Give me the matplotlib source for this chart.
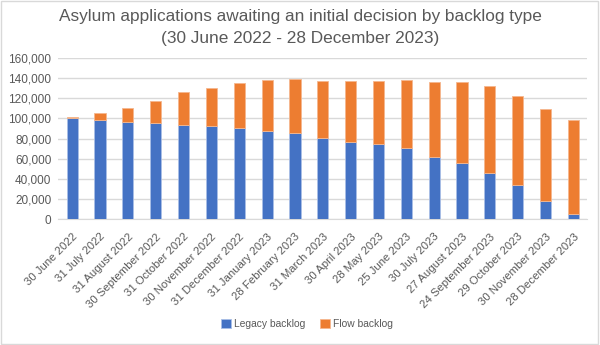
import matplotlib.pyplot as plt
import matplotlib.patches as mpatches
import numpy as np

# Snapshot dates and backlog sizes
dates = [
    '30 June 2022', '31 July 2022', '31 August 2022', '30 September 2022',
    '31 October 2022', '30 November 2022', '31 December 2022',
    '31 January 2023', '28 February 2023', '31 March 2023', '30 April 2023',
    '28 May 2023', '25 June 2023', '30 July 2023', '27 August 2023',
    '24 September 2023', '29 October 2023', '30 November 2023',
    '28 December 2023',
]
legacy = [100000, 98400, 96400, 95700, 93700, 92100, 90400, 87800, 85100,
          80800, 76500, 74200, 70200, 61900, 55300, 45400, 33500, 18200, 4600]
total = [101700, 105300, 110600, 117600, 125900, 130500, 135500, 137800,
         139100, 137500, 136800, 137100, 138100, 136100, 136100, 132200,
         122200, 109000, 98000]
flow = [t - l for t, l in zip(total, legacy)]

BLUE = '#4472C4'
ORANGE = '#ED7D31'
TEXT = '#595959'
GRID = '#D9D9D9'

plt.rcParams['font.family'] = ['Liberation Sans', 'DejaVu Sans']

fig = plt.figure(figsize=(6, 3.45), dpi=100)
ax = fig.add_axes([0.097, 0.365, 0.882, 0.467])

x = np.arange(len(dates))
ax.bar(x, legacy, width=0.4, color=BLUE, edgecolor='#A9BEE6',
       linewidth=0.6, label='Legacy backlog', zorder=3)
ax.bar(x, flow, bottom=legacy, width=0.4, color=ORANGE, edgecolor='#F5B78E',
       linewidth=0.6, label='Flow backlog', zorder=3)

ax.set_xlim(-0.5, len(dates) - 0.5)
ax.set_ylim(0, 160000)
ax.set_yticks(range(0, 160001, 20000))
ax.set_yticklabels([f'{v:,}' for v in range(0, 160001, 20000)])
ax.yaxis.grid(True, color=GRID, linewidth=1, zorder=0)

ax.set_xticks(x)
ax.set_xticklabels(dates, rotation=45, ha='right', rotation_mode='anchor')
ax.tick_params(axis='both', length=0, labelcolor=TEXT)
ax.tick_params(axis='x', pad=9, labelsize=8.2)
ax.tick_params(axis='y', pad=5, labelsize=8.5)

for side in ['left', 'right', 'top']:
    ax.spines[side].set_visible(False)
ax.spines['bottom'].set_color(GRID)

fig.suptitle('Asylum applications awaiting an initial decision by backlog type\n'
             '(30 June 2022 - 28 December 2023)',
             x=0.5, y=0.975, fontsize=12.4, color=TEXT, linespacing=1.6)

fig.legend(*ax.get_legend_handles_labels(), loc='center',
           bbox_to_anchor=(0.512, 0.06), ncol=2,
           frameon=False, fontsize=7.4, labelcolor=TEXT, handlelength=0.95,
           handleheight=0.95, handletextpad=0.3, columnspacing=1.4)

# thin border round the whole chart
fig.patches.append(mpatches.Rectangle((0.002, 0.003), 0.995, 0.994,
                                      transform=fig.transFigure, fill=False,
                                      edgecolor=GRID, linewidth=1))

fig.savefig('out.png', dpi=100)
